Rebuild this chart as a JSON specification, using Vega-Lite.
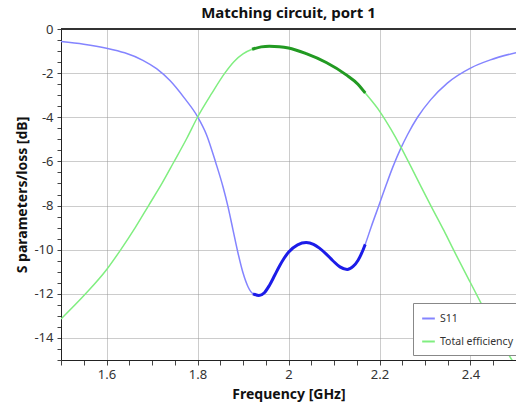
{
  "$schema": "https://vega.github.io/schema/vega-lite/v6.json",
  "autosize": "none",
  "padding": {"left": 61, "top": 29, "right": 0, "bottom": 44},
  "width": 455,
  "height": 331,
  "background": "white",
  "config": {
    "font": "Noto Sans",
    "view": {"stroke": null}
  },
  "title": {"text": "Matching circuit, port 1", "font": "Noto Sans", "fontSize": 15, "fontWeight": "bold", "anchor": "middle", "offset": 2, "color": "#111"},
  "data": {"values": [
    {"f": 1.50, "v": -0.57, "series": "S11"},
    {"f": 1.55, "v": -0.69, "series": "S11"},
    {"f": 1.60, "v": -0.87, "series": "S11"},
    {"f": 1.64, "v": -1.08, "series": "S11"},
    {"f": 1.68, "v": -1.42, "series": "S11"},
    {"f": 1.71, "v": -1.80, "series": "S11"},
    {"f": 1.74, "v": -2.35, "series": "S11"},
    {"f": 1.77, "v": -3.1, "series": "S11"},
    {"f": 1.80, "v": -3.97, "series": "S11"},
    {"f": 1.82, "v": -4.8, "series": "S11"},
    {"f": 1.84, "v": -6.05, "series": "S11"},
    {"f": 1.856, "v": -7.15, "series": "S11"},
    {"f": 1.867, "v": -8.05, "series": "S11"},
    {"f": 1.878, "v": -9.1, "series": "S11"},
    {"f": 1.889, "v": -10.15, "series": "S11"},
    {"f": 1.90, "v": -11.05, "series": "S11"},
    {"f": 1.911, "v": -11.68, "series": "S11"},
    {"f": 1.922, "v": -12.0, "series": "S11"},
    {"f": 1.935, "v": -12.08, "series": "S11"},
    {"f": 1.947, "v": -11.95, "series": "S11"},
    {"f": 1.958, "v": -11.62, "series": "S11"},
    {"f": 1.97, "v": -11.15, "series": "S11"},
    {"f": 1.98, "v": -10.75, "series": "S11"},
    {"f": 1.99, "v": -10.4, "series": "S11"},
    {"f": 2.00, "v": -10.12, "series": "S11"},
    {"f": 2.02, "v": -9.78, "series": "S11"},
    {"f": 2.039, "v": -9.68, "series": "S11"},
    {"f": 2.055, "v": -9.76, "series": "S11"},
    {"f": 2.068, "v": -9.93, "series": "S11"},
    {"f": 2.083, "v": -10.2, "series": "S11"},
    {"f": 2.097, "v": -10.49, "series": "S11"},
    {"f": 2.113, "v": -10.78, "series": "S11"},
    {"f": 2.129, "v": -10.9, "series": "S11"},
    {"f": 2.142, "v": -10.76, "series": "S11"},
    {"f": 2.1526, "v": -10.49, "series": "S11"},
    {"f": 2.161, "v": -10.15, "series": "S11"},
    {"f": 2.1686, "v": -9.76, "series": "S11"},
    {"f": 2.1817, "v": -8.97, "series": "S11"},
    {"f": 2.20, "v": -7.92, "series": "S11"},
    {"f": 2.2146, "v": -7.07, "series": "S11"},
    {"f": 2.229, "v": -6.27, "series": "S11"},
    {"f": 2.247, "v": -5.4, "series": "S11"},
    {"f": 2.2618, "v": -4.78, "series": "S11"},
    {"f": 2.2836, "v": -4.0, "series": "S11"},
    {"f": 2.3127, "v": -3.2, "series": "S11"},
    {"f": 2.3491, "v": -2.45, "series": "S11"},
    {"f": 2.40, "v": -1.77, "series": "S11"},
    {"f": 2.4437, "v": -1.4, "series": "S11"},
    {"f": 2.50, "v": -1.07, "series": "S11"},
    {"f": 1.50, "v": -13.14, "series": "Total efficiency"},
    {"f": 1.554, "v": -12.0, "series": "Total efficiency"},
    {"f": 1.60, "v": -10.91, "series": "Total efficiency"},
    {"f": 1.6307, "v": -10.02, "series": "Total efficiency"},
    {"f": 1.6635, "v": -8.99, "series": "Total efficiency"},
    {"f": 1.6925, "v": -8.0, "series": "Total efficiency"},
    {"f": 1.7219, "v": -7.0, "series": "Total efficiency"},
    {"f": 1.7474, "v": -6.05, "series": "Total efficiency"},
    {"f": 1.7766, "v": -4.95, "series": "Total efficiency"},
    {"f": 1.80, "v": -4.0, "series": "Total efficiency"},
    {"f": 1.8313, "v": -2.92, "series": "Total efficiency"},
    {"f": 1.86, "v": -2.0, "series": "Total efficiency"},
    {"f": 1.88, "v": -1.48, "series": "Total efficiency"},
    {"f": 1.90, "v": -1.13, "series": "Total efficiency"},
    {"f": 1.92, "v": -0.92, "series": "Total efficiency"},
    {"f": 1.94, "v": -0.81, "series": "Total efficiency"},
    {"f": 1.958, "v": -0.78, "series": "Total efficiency"},
    {"f": 1.98, "v": -0.8, "series": "Total efficiency"},
    {"f": 2.00, "v": -0.86, "series": "Total efficiency"},
    {"f": 2.039, "v": -1.12, "series": "Total efficiency"},
    {"f": 2.083, "v": -1.52, "series": "Total efficiency"},
    {"f": 2.127, "v": -2.08, "series": "Total efficiency"},
    {"f": 2.1526, "v": -2.5, "series": "Total efficiency"},
    {"f": 2.1686, "v": -2.9, "series": "Total efficiency"},
    {"f": 2.20, "v": -3.72, "series": "Total efficiency"},
    {"f": 2.2253, "v": -4.55, "series": "Total efficiency"},
    {"f": 2.247, "v": -5.35, "series": "Total efficiency"},
    {"f": 2.2694, "v": -6.25, "series": "Total efficiency"},
    {"f": 2.291, "v": -7.13, "series": "Total efficiency"},
    {"f": 2.3127, "v": -8.0, "series": "Total efficiency"},
    {"f": 2.342, "v": -9.15, "series": "Total efficiency"},
    {"f": 2.3625, "v": -10.0, "series": "Total efficiency"},
    {"f": 2.40, "v": -11.5, "series": "Total efficiency"},
    {"f": 2.43, "v": -12.7, "series": "Total efficiency"},
    {"f": 2.46, "v": -13.9, "series": "Total efficiency"},
    {"f": 2.50, "v": -15.3, "series": "Total efficiency"}
  ]},
  "encoding": {
    "x": {
      "field": "f", "type": "quantitative",
      "scale": {"domain": [1.5, 2.5], "nice": false, "zero": false},
      "axis": {
        "title": "Frequency [GHz]",
        "titleFont": "Noto Sans", "titleFontSize": 14, "titleFontWeight": "bold", "titleColor": "#111", "titlePadding": 6,
        "values": [1.5,1.55,1.6,1.65,1.7,1.75,1.8,1.85,1.9,1.95,2,2.05,2.1,2.15,2.2,2.25,2.3,2.35,2.4,2.45,2.5],
        "labelExpr": "abs(datum.value*5 - round(datum.value*5)) < 0.001 ? '' + datum.value : ''",
        "labelFont": "Noto Sans", "labelFontSize": 13, "labelColor": "#333", "labelPadding": 3,
        "labelOverlap": false, "labelFlush": false,
        "domainColor": "#222", "tickColor": "#444", "tickSize": 5,
        "grid": true, "gridColor": "#999", "gridDash": [1, 1],
        "gridOpacity": {"condition": {"test": "abs(datum.value*5 - round(datum.value*5)) < 0.001 && datum.value > 1.55 && datum.value < 2.45", "value": 1}, "value": 0}
      }
    },
    "y": {
      "field": "v", "type": "quantitative",
      "scale": {"domain": [-15, 0], "nice": false, "zero": false},
      "axis": {
        "title": "S parameters/loss [dB]",
        "titleFont": "Noto Sans", "titleFontSize": 14, "titleFontWeight": "bold", "titleColor": "#111", "titlePadding": 4,
        "values": [0,-0.5,-1,-1.5,-2,-2.5,-3,-3.5,-4,-4.5,-5,-5.5,-6,-6.5,-7,-7.5,-8,-8.5,-9,-9.5,-10,-10.5,-11,-11.5,-12,-12.5,-13,-13.5,-14,-14.5,-15],
        "labelExpr": "datum.value % 2 === 0 ? '' + datum.value : ''",
        "labelFont": "Noto Sans", "labelFontSize": 13, "labelColor": "#333", "labelPadding": 4,
        "labelOverlap": false, "labelFlush": false,
        "domainColor": "#222", "tickColor": "#444", "tickSize": 4,
        "grid": true, "gridColor": "#999", "gridDash": [1, 1],
        "gridOpacity": {"condition": {"test": "datum.value % 2 === 0 && datum.value > -15", "value": 1}, "value": 0}
      }
    }
  },
  "layer": [
    {
      "mark": {"type": "rule", "color": "#333", "strokeWidth": 1},
      "encoding": {"y": {"datum": 0}, "x": {"datum": 1.5}, "x2": {"datum": 2.5}}
    },
    {
      "mark": {"type": "line", "interpolate": "monotone", "strokeWidth": 1.5, "clip": true},
      "encoding": {
        "color": {
          "field": "series", "type": "nominal",
          "scale": {"domain": ["S11", "Total efficiency"], "range": ["#8484ff", "#80ee80"]},
          "legend": {
            "title": null, "orient": "none", "legendX": 352, "legendY": 274,
            "strokeColor": "#888", "fillColor": "white", "padding": 8, "cornerRadius": 0,
            "symbolType": "stroke", "symbolSize": 160, "symbolStrokeWidth": 2,
            "labelFont": "Noto Sans", "labelFontSize": 10.5, "labelColor": "#333",
            "rowPadding": 10, "labelOffset": 4,
            "encode": {"symbols": {"update": {"stroke": {"signal": "datum.value === 'S11' ? '#4a4aff' : '#6acc6a'"}}}}
          }
        }
      }
    },
    {
      "transform": [{"filter": "datum.f >= 1.92 && datum.f <= 2.17"}],
      "mark": {"type": "line", "interpolate": "monotone", "strokeWidth": 3},
      "encoding": {
        "detail": {"field": "series", "type": "nominal"},
        "color": {"condition": {"test": "datum.series === 'S11'", "value": "#1c1ce8"}, "value": "#229a22"}
      }
    }
  ]
}
